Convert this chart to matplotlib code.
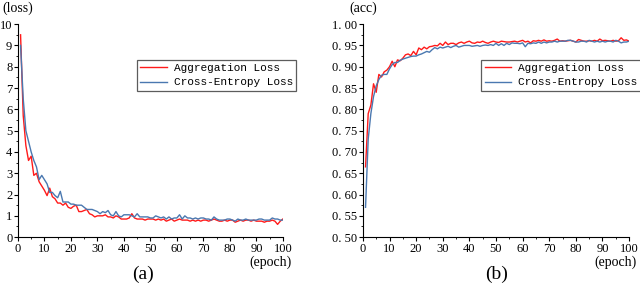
import numpy as np
import matplotlib
matplotlib.use("Agg")
import matplotlib.pyplot as plt
from matplotlib.ticker import MultipleLocator

epochs = np.arange(1, 101)

loss_agg = [9.5, 5.7, 4.3, 3.6, 3.8, 2.9, 3.0, 2.6, 2.4, 2.2,
            1.95, 2.3, 1.9, 1.8, 1.6, 1.6, 1.5, 1.6, 1.4, 1.35,
            1.45, 1.5, 1.2, 1.2, 1.25, 1.3, 1.1, 1.05, 0.95, 1.0,
            1.0, 1.0, 1.05, 0.95, 0.95, 0.9, 1.0, 0.95, 0.85, 0.85,
            0.85, 0.9, 1.1, 0.9, 0.85, 0.85, 0.85, 0.8, 0.85, 0.85,
            0.85, 0.8, 0.85, 0.8, 0.85, 0.75, 0.8, 0.85, 0.75, 0.8,
            0.85, 0.8, 0.8, 0.8, 0.75, 0.8, 0.75, 0.8, 0.75, 0.8,
            0.8, 0.75, 0.8, 0.85, 0.8, 0.75, 0.75, 0.8, 0.75, 0.8,
            0.8, 0.7, 0.75, 0.8, 0.75, 0.8, 0.8, 0.75, 0.8, 0.75,
            0.75, 0.75, 0.7, 0.75, 0.75, 0.8, 0.75, 0.6, 0.75, 0.85]

loss_ce = [9.0, 6.5, 5.0, 4.5, 4.0, 3.6, 3.3, 2.7, 2.9, 2.7,
           2.5, 2.1, 2.1, 1.95, 1.85, 2.15, 1.65, 1.65, 1.65, 1.55,
           1.55, 1.5, 1.5, 1.5, 1.4, 1.3, 1.3, 1.3, 1.25, 1.2,
           1.1, 1.2, 1.15, 1.25, 1.05, 1.0, 1.2, 1.0, 0.95, 1.05,
           1.05, 1.05, 1.0, 0.95, 1.1, 0.95, 0.95, 0.95, 0.95, 0.9,
           0.9, 1.0, 0.95, 0.9, 0.95, 0.85, 0.95, 0.85, 0.9, 0.9,
           1.05, 0.85, 1.0, 0.9, 0.9, 0.85, 0.9, 0.85, 0.9, 0.9,
           0.85, 0.85, 0.8, 0.95, 0.85, 0.8, 0.8, 0.8, 0.85, 0.85,
           0.8, 0.75, 0.85, 0.8, 0.8, 0.85, 0.8, 0.8, 0.8, 0.8,
           0.85, 0.85, 0.8, 0.8, 0.8, 0.9, 0.85, 0.85, 0.8, 0.8]

acc_agg = [0.665, 0.79, 0.81, 0.86, 0.84, 0.882, 0.876, 0.888, 0.892, 0.90,
           0.913, 0.90, 0.916, 0.914, 0.92, 0.928, 0.93, 0.926, 0.936, 0.928,
           0.944, 0.94, 0.946, 0.942, 0.947, 0.948, 0.95, 0.949, 0.955, 0.95,
           0.958, 0.952, 0.955, 0.955, 0.952, 0.956, 0.958, 0.955, 0.958, 0.96,
           0.956, 0.955, 0.958, 0.957, 0.96, 0.957, 0.955, 0.958, 0.96, 0.958,
           0.957, 0.96, 0.959, 0.958, 0.958, 0.959, 0.96, 0.958, 0.96, 0.962,
           0.958, 0.96, 0.956, 0.961, 0.96, 0.962, 0.96, 0.963, 0.96, 0.961,
           0.96, 0.962, 0.965, 0.96, 0.961, 0.96, 0.961, 0.962, 0.96, 0.958,
           0.964, 0.962, 0.96, 0.96, 0.961, 0.96, 0.962, 0.96, 0.965, 0.961,
           0.962, 0.961, 0.96, 0.962, 0.96, 0.961, 0.968, 0.962, 0.963, 0.96]

acc_ce = [0.57, 0.73, 0.79, 0.83, 0.855, 0.87, 0.88, 0.882, 0.882, 0.895,
          0.905, 0.91, 0.91, 0.915, 0.918, 0.92, 0.922, 0.924, 0.925, 0.925,
          0.928, 0.93, 0.933, 0.936, 0.934, 0.94, 0.945, 0.942, 0.946, 0.944,
          0.946, 0.948, 0.945, 0.948, 0.95, 0.946, 0.948, 0.95, 0.95, 0.95,
          0.948, 0.949, 0.95, 0.948, 0.95, 0.951, 0.95, 0.952, 0.95, 0.955,
          0.95, 0.954, 0.95, 0.955, 0.952, 0.956, 0.955, 0.955, 0.954, 0.956,
          0.947, 0.955, 0.954, 0.956, 0.955, 0.958, 0.955, 0.958, 0.956, 0.958,
          0.958, 0.96, 0.958, 0.96, 0.96, 0.96, 0.962, 0.962, 0.96, 0.958,
          0.958, 0.96, 0.96, 0.958, 0.962, 0.96, 0.958, 0.96, 0.958, 0.96,
          0.958, 0.96, 0.96, 0.958, 0.962, 0.96, 0.956, 0.958, 0.958, 0.96]

acc_ticks = np.arange(0.5, 1.001, 0.05)

red = "#ff1a1a"
blue = "#4a78b0"
serif = "Liberation Serif"
mono = "Liberation Mono"

fig = plt.figure(figsize=(6.4, 2.84), dpi=100)
ax1 = fig.add_axes([0.028, 0.165, 0.414, 0.75])
ax2 = fig.add_axes([0.567, 0.165, 0.416, 0.75])


def style(ax):
    for s in ("top", "right"):
        ax.spines[s].set_visible(False)
    ax.set_xlim(0, 100)
    ax.xaxis.set_major_locator(MultipleLocator(10))
    ax.xaxis.set_minor_locator(MultipleLocator(5))
    ax.tick_params(which="major", direction="out", length=3, width=0.8,
                   labelsize=9, pad=1)
    ax.tick_params(which="minor", direction="out", length=1.5, width=0.6)
    for lab in ax.get_xticklabels() + ax.get_yticklabels():
        lab.set_fontfamily(serif)


ax1.plot(epochs, loss_agg, color=red, lw=1.0, label="Aggregation Loss")
ax1.plot(epochs, loss_ce, color=blue, lw=1.0, label="Cross-Entropy Loss")
ax1.set_ylim(0, 10)
ax1.yaxis.set_major_locator(MultipleLocator(1))
ax1.yaxis.set_minor_locator(MultipleLocator(0.5))
style(ax1)

ax2.plot(epochs, acc_agg, color=red, lw=1.0, label="Aggregation Loss")
ax2.plot(epochs, acc_ce, color=blue, lw=1.0, label="Cross-Entropy Loss")
ax2.set_ylim(0.5, 1.0)
ax2.set_yticks(acc_ticks)
ax2.set_yticklabels([f"{v:.2f}".replace(".", ". ") for v in acc_ticks])
ax2.yaxis.set_minor_locator(MultipleLocator(0.025))
style(ax2)

for ax, x0 in ((ax1, 0.214), (ax2, 0.752)):
    leg = ax.legend(loc="upper left", bbox_to_anchor=(x0, 0.79),
                    bbox_transform=fig.transFigure, fancybox=False,
                    prop={"family": mono, "size": 8}, borderpad=0.3,
                    handlelength=2.4, handletextpad=0.6, labelspacing=0.4,
                    borderaxespad=0)
    leg.get_frame().set_edgecolor("#333333")
    leg.get_frame().set_linewidth(0.9)

fig.text(0.003, 0.97, "(loss)", fontfamily=serif, fontsize=10, va="center")
fig.text(0.546, 0.97, "(acc)", fontfamily=serif, fontsize=10, va="center")
fig.text(0.455, 0.078, "(epoch)", fontfamily=serif, fontsize=10, ha="right", va="center")
fig.text(0.995, 0.078, "(epoch)", fontfamily=serif, fontsize=10, ha="right", va="center")
fig.text(0.224, 0.035, "(a)", fontfamily=serif, fontsize=14, ha="center", va="center")
fig.text(0.776, 0.035, "(b)", fontfamily=serif, fontsize=14, ha="center", va="center")

fig.savefig("out.png", dpi=100)
